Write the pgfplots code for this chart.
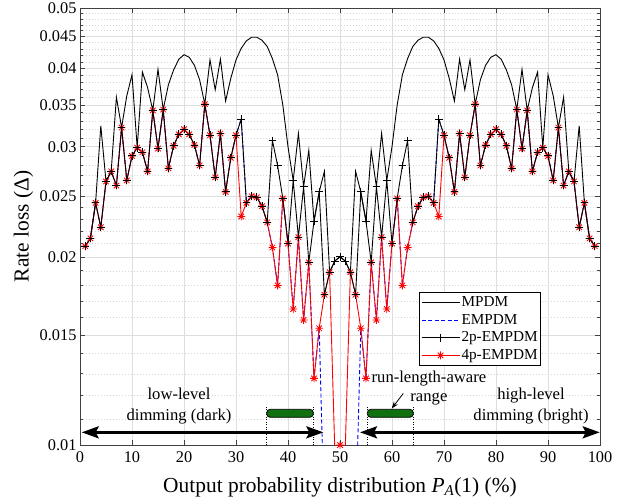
\documentclass[border=0pt]{standalone}
\usepackage{fontspec}
\setmainfont{Liberation Serif}
\usepackage{pgfplots}
\usepackage{pgfplotstable}
\pgfplotsset{compat=1.18}
\usetikzlibrary{arrows.meta}

\pgfdeclareplotmark{ast8}{%
  \pgfpathmoveto{\pgfqpoint{-\pgfplotmarksize}{0pt}}\pgfpathlineto{\pgfqpoint{\pgfplotmarksize}{0pt}}%
  \pgfpathmoveto{\pgfqpoint{0pt}{-\pgfplotmarksize}}\pgfpathlineto{\pgfqpoint{0pt}{\pgfplotmarksize}}%
  \pgfpathmoveto{\pgfqpoint{-0.707\pgfplotmarksize}{-0.707\pgfplotmarksize}}\pgfpathlineto{\pgfqpoint{0.707\pgfplotmarksize}{0.707\pgfplotmarksize}}%
  \pgfpathmoveto{\pgfqpoint{-0.707\pgfplotmarksize}{0.707\pgfplotmarksize}}\pgfpathlineto{\pgfqpoint{0.707\pgfplotmarksize}{-0.707\pgfplotmarksize}}%
  \pgfusepathqstroke}

\definecolor{bargreen}{RGB}{16,112,16}

% x  MPDM  EMPDM  2p  4p
\pgfplotstableread{
x M E P T
1 .0208 .0208 .0208 .0208
2 .0214 .0214 .0214 .0214
3 .0244 .0244 .0244 .0244
4 .0324 .0223 .0223 .0223
5 .0264 .0264 .0264 .0264
6 .0274 .0274 .0274 .0274
7 .0360 .0260 .0260 .0260
8 .0322 .0322 .0322 .0322
9 .0362 .0265 .0265 .0265
10 .0391 .0290 .0290 .0290
11 .0299 .0299 .0299 .0299
12 .0395 .0294 .0294 .0294
13 .0373 .0274 .0274 .0274
14 .0343 .0343 .0343 .0343
15 .0399 .0298 .0298 .0298
16 .0344 .0344 .0344 .0344
17 .0377 .0277 .0277 .0277
18 .0398 .0301 .0301 .0301
19 .0414 .0314 .0314 .0314
20 .0421 .0320 .0320 .0320
21 .0417 .0314 .0314 .0314
22 .0405 .0302 .0302 .0302
23 .0384 .0280 .0280 .0280
24 .0351 .0351 .0351 .0351
25 .0413 .0313 .0313 .0313
26 .0370 .0268 .0268 .0268
27 .0414 .0315 .0315 .0315
28 .0355 .0254 .0254 .0254
29 .0386 .0288 .0288 .0288
30 .0413 .0313 .0313 .0313
31 .0431 .0332 .0332 .0232
32 .0443 .0244 .0244 .0244
33 .0449 .0250 .0250 .0250
34 .0449 .0249 .0249 .0249
35 .0444 .0241 .0241 .0241
36 .0434 .0227 .0227 .0227
37 .0415 .0207 .0307 .0207
38 .0391 .0180 .0280 .0180
39 .0350 .0248 .0248 .0248
40 .0300 .0210 .0210 .0210
41 .0265 .0165 .0265 .0165
42 .0315 .0215 .0215 .0215
43 .0259 .01585 .0259 .01585
44 .0296 .0196 .0196 .0196
45 .0228 .01278 .0228 .01278
46 .0254 .01537 .0254 .01537
47 .0274 .0075 .0174 .0174
48 .0189 .005 .0189 .0189
49 .0197 .005 .0197 .0098
50 .0200 .005 .0200 .0100
51 .0197 .005 .0197 .0098
52 .0189 .005 .0189 .0189
53 .0274 .0075 .0174 .0174
54 .0254 .01537 .0254 .01537
55 .0228 .01278 .0228 .01278
56 .0296 .0196 .0196 .0196
57 .0259 .01585 .0259 .01585
58 .0315 .0215 .0215 .0215
59 .0265 .0165 .0265 .0165
60 .0300 .0210 .0210 .0210
61 .0350 .0248 .0248 .0248
62 .0391 .0180 .0280 .0180
63 .0415 .0207 .0307 .0207
64 .0434 .0227 .0227 .0227
65 .0444 .0241 .0241 .0241
66 .0449 .0249 .0249 .0249
67 .0449 .0250 .0250 .0250
68 .0443 .0244 .0244 .0244
69 .0431 .0332 .0332 .0232
70 .0413 .0313 .0313 .0313
71 .0386 .0288 .0288 .0288
72 .0355 .0254 .0254 .0254
73 .0414 .0315 .0315 .0315
74 .0370 .0268 .0268 .0268
75 .0413 .0313 .0313 .0313
76 .0351 .0351 .0351 .0351
77 .0384 .0280 .0280 .0280
78 .0405 .0302 .0302 .0302
79 .0417 .0314 .0314 .0314
80 .0421 .0320 .0320 .0320
81 .0414 .0314 .0314 .0314
82 .0398 .0301 .0301 .0301
83 .0377 .0277 .0277 .0277
84 .0344 .0344 .0344 .0344
85 .0399 .0298 .0298 .0298
86 .0343 .0343 .0343 .0343
87 .0373 .0274 .0274 .0274
88 .0395 .0294 .0294 .0294
89 .0299 .0299 .0299 .0299
90 .0391 .0290 .0290 .0290
91 .0362 .0265 .0265 .0265
92 .0322 .0322 .0322 .0322
93 .0360 .0260 .0260 .0260
94 .0274 .0274 .0274 .0274
95 .0264 .0264 .0264 .0264
96 .0324 .0223 .0223 .0223
97 .0244 .0244 .0244 .0244
98 .0214 .0214 .0214 .0214
99 .0208 .0208 .0208 .0208
}\datatable

\begin{document}
\begin{tikzpicture}
\useasboundingbox (-80bp,-54bp) rectangle (551bp,445bp);
\begin{axis}[
  at={(0,0)}, anchor=south west,
  scale only axis, width=520bp, height=437bp,
  xmin=0, xmax=100, ymin=0.01, ymax=0.05,
  ymode=log,
  axis line style={draw=black!75, line width=0.7bp},
  xtick={0,10,...,100},
  ytick={0.01,0.015,0.02,0.025,0.03,0.035,0.04,0.045,0.05},
  yticklabels={0.01,0.015,0.02,0.025,0.03,0.035,0.04,0.045,0.05},
  minor ytick={0.011,0.012,0.013,0.014,0.016,0.017,0.018,0.019,0.021,0.022,0.023,0.024,0.026,0.027,0.028,0.029,0.031,0.032,0.033,0.034,0.036,0.037,0.038,0.039,0.041,0.042,0.043,0.044,0.046,0.047,0.048,0.049},
  /pgf/number format/assume math mode=true,
  tick align=inside,
  major tick length=5.5bp, minor tick length=3.5bp,
  every tick/.style={draw=black!75, line width=0.6bp},
  grid=both,
  major grid style={draw=black!13, line width=0.6bp},
  minor grid style={draw=black!16, line width=0.5bp, dash pattern=on 1.5bp off 1.5bp},
  tick label style={font=\fontsize{16.4}{19}\selectfont},
  xticklabel style={yshift=-3bp},
  xlabel={Output probability distribution \textit{P}\textsubscript{\textit{A}}(1) (\%)},
  ylabel={Rate loss (Δ)},
  label style={font=\fontsize{21.5}{25}\selectfont},
  xlabel style={at={(axis description cs:0.5,0)}, anchor=base, yshift=-47.5bp},
  ylabel style={at={(axis description cs:-0.0990,0.5)}, anchor=base},
  legend style={at={(0.6525,0.3494)}, anchor=north west, draw=black, line width=0.6bp, fill=white,
    font=\fontsize{15.3}{18}\selectfont, inner sep=1.5bp, row sep=0bp,
    nodes={inner sep=1.5bp, text height=11bp, text depth=3.5bp}},
  legend cell align=left,
  legend image code/.code={\draw[mark repeat=2,mark phase=2,#1] plot coordinates {(0bp,0bp) (19bp,0bp) (38bp,0bp)};},
]
\addplot[black, line width=0.9bp, forget plot] table[x=x, y=M] {\datatable};
\addplot[blue, line width=0.9bp, dash pattern=on 4bp off 2.5bp, forget plot] table[x=x, y=E] {\datatable};
\addplot[red, line width=0.9bp, mark=ast8, mark size=3.9bp, mark options={solid, line width=0.85bp}, forget plot] table[x=x, y=T] {\datatable};
\addplot[black, line width=0.9bp, mark=+, mark size=3.9bp, mark options={solid, line width=0.85bp}, forget plot] table[x=x, y=P] {\datatable};

\addlegendimage{black, line width=0.9bp}
\addlegendentry{MPDM}
\addlegendimage{blue, line width=0.9bp, dash pattern=on 4bp off 2.5bp}
\addlegendentry{EMPDM}
\addlegendimage{black, line width=0.9bp, mark=+, mark size=3.9bp, mark options={solid, line width=0.85bp}}
\addlegendentry{2p-EMPDM}
\addlegendimage{red, line width=0.9bp, mark=ast8, mark size=3.9bp, mark options={solid, line width=0.85bp}}
\addlegendentry{4p-EMPDM}

% annotations
\draw[line width=2.6bp, {Stealth[length=17bp,width=12bp,inset=3bp]}-{Stealth[length=17bp,width=12bp,inset=3bp]}]
  (rel axis cs:0.0033,0.029) -- (rel axis cs:0.468,0.029);
\draw[line width=2.6bp, {Stealth[length=17bp,width=12bp,inset=3bp]}-{Stealth[length=17bp,width=12bp,inset=3bp]}]
  (rel axis cs:0.5385,0.029) -- (rel axis cs:0.9995,0.029);

\draw[black, line width=0.6bp, dash pattern=on 1bp off 1.5bp] (rel axis cs:0.359,0) -- (rel axis cs:0.359,0.0915);
\draw[black, line width=0.6bp, dash pattern=on 1bp off 1.5bp] (rel axis cs:0.4487,0) -- (rel axis cs:0.4487,0.0915);
\draw[black, line width=0.6bp, dash pattern=on 1bp off 1.5bp] (rel axis cs:0.5525,0) -- (rel axis cs:0.5525,0.0915);
\draw[black, line width=0.6bp, dash pattern=on 1bp off 1.5bp] (rel axis cs:0.641,0) -- (rel axis cs:0.641,0.0915);

\draw[fill=bargreen, draw=black, line width=0.8bp, rounded corners=3.5bp]
  (rel axis cs:0.359,0.0634) rectangle (rel axis cs:0.4487,0.0817);
\draw[fill=bargreen, draw=black, line width=0.8bp, rounded corners=3.5bp]
  (rel axis cs:0.5525,0.0634) rectangle (rel axis cs:0.641,0.0817);

\draw[line width=0.8bp, -{Stealth[length=7bp,width=5bp]}] (rel axis cs:0.6217,0.118) -- (rel axis cs:0.5994,0.0835);

\node[font=\fontsize{16.7}{20.5}\selectfont, align=center] at (rel axis cs:0.1904,0.0892) {low-level\\dimming (dark)};
\node[font=\fontsize{16.7}{20.5}\selectfont, align=center] at (rel axis cs:0.8673,0.0892) {high-level\\dimming (bright)};
\node[font=\fontsize{16.7}{19.5}\selectfont, align=center] at (rel axis cs:0.671,0.1304) {run-length-aware\\range};
\end{axis}
\end{tikzpicture}
\end{document}
